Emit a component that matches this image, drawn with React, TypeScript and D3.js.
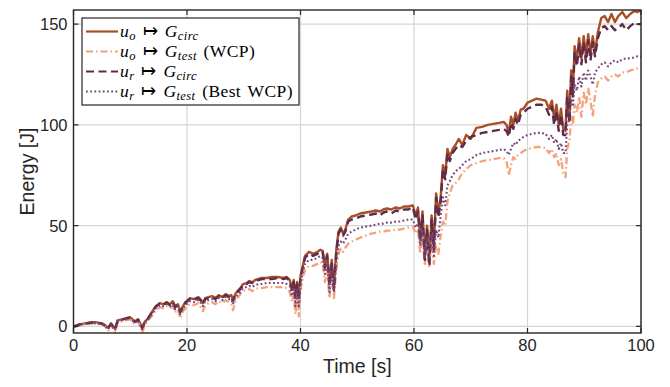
import React from 'react';
import * as d3 from 'd3';

// time samples [s] shared by all four runs
const time = [
  0, 1, 2, 3, 4, 5, 5.6, 6.1, 6.6, 7.3,
  7.8, 8.5, 9.2, 10.0, 10.4, 10.8, 11.4, 12.1, 12.6, 13.0,
  13.8, 14.5, 15.2, 15.8, 16.4, 17.0, 17.5, 17.9, 18.4, 18.8,
  19.3, 19.7, 20.5, 21.2, 22.0, 22.5, 22.8, 23.2, 23.8, 24.4,
  25.0, 25.6, 26.2, 26.8, 27.4, 27.8, 28.1, 28.5, 28.9, 29.4,
  29.9, 30.5, 31.0, 31.5, 32.0, 32.6, 33.2, 34.0, 35.0, 36.0,
  37.0, 37.6, 38.1, 38.5, 38.8, 39.1, 39.4, 39.7, 40.0, 40.4,
  40.8, 41.5, 42.2, 43.0, 43.5, 43.9, 44.3, 44.7, 45.1, 45.5,
  45.9, 46.3, 46.7, 47.1, 47.5, 47.9, 48.4, 49.0, 49.7, 50.5,
  51.5, 52.5, 53.3, 54.0, 54.6, 55.2, 56.0, 56.8, 57.5, 58.2,
  59.0, 59.8, 60.3, 60.7, 61.1, 61.5, 61.9, 62.3, 62.7, 63.1,
  63.5, 63.9, 64.3, 64.7, 65.1, 65.5, 65.9, 66.3, 66.8, 67.3,
  67.9, 68.5, 69.2, 70.0, 71.0, 72.0, 73.0, 74.0, 75.0, 75.8,
  76.3, 76.7, 77.1, 77.5, 77.9, 78.3, 78.8, 79.3, 80.0, 80.8,
  81.6, 82.4, 83.2, 83.8, 84.3, 84.7, 85.1, 85.5, 85.9, 86.3,
  86.7, 87.0, 87.4, 87.7, 88.0, 88.3, 88.7, 89.1, 89.5, 89.9,
  90.3, 90.7, 91.1, 91.5, 91.9, 92.4, 93.0, 93.6, 94.2, 94.8,
  95.4, 96.0, 96.7, 97.4, 98.1, 98.8, 99.4, 100,
];

// u_o -> G_circ
const uoCirc = [
  0, 1, 1.5, 2, 2, 1.5, 0.5, -0.8, 1.5, -1.2,
  3, 3.5, 4, 4.5, 3.5, 2.5, 3.5, -0.5, 2.5, 3.5,
  7, 10, 11.5, 11, 12, 11, 12.5, 10, 11, 7.5,
  10, 12, 14, 13.5, 14.5, 13, 11.5, 14, 14.5, 15,
  14, 15.5, 14.5, 16, 15, 15.5, 13, 16, 17.5, 19,
  21, 21.5, 22.5, 21.8, 23, 23.5, 24, 24, 24.5, 24.5,
  24, 24.5, 23, 19, 23, 15, 22, 14, 25, 30,
  35, 37, 36, 37, 38, 37.5, 30, 36, 22, 33,
  20, 38, 47, 49, 46, 48, 53, 54.5, 55, 56,
  56.5, 57, 57.5, 57, 58, 58.5, 58, 59, 58.5, 59.5,
  59.5, 60, 55, 59, 44, 57, 35, 50, 32, 55,
  40, 66, 56, 64, 80, 75, 88, 84, 88, 90,
  93, 90, 95, 93, 98.5, 99, 100, 100.5, 101, 101.5,
  100, 96, 104, 100, 106, 102, 107.5, 108, 111, 112,
  113, 112.5, 112, 108, 112, 103, 110, 100, 108, 98,
  97, 117, 104, 127, 117, 139, 132, 143, 133, 144,
  134, 145, 135, 144, 136, 146, 153, 154, 151, 155,
  151, 154, 156, 153, 155, 156.5, 156, 157,
];

// u_o -> G_test (WCP)
const uoTest = [
  -0.5, 0.5, 1, 1.5, 1.5, 1, 0, -2.5, 0.8, -3,
  2, 2.5, 3, 3.5, 2, 1, 2.5, -3.3, 1, 2.5,
  5, 8, 9.5, 9, 10, 9, 10, 7, 8.5, 4,
  7.5, 9, 11, 10.5, 11.5, 9, 7.5, 10.5, 11.5, 12,
  11, 12.5, 11.5, 13, 12, 11, 8, 12, 14, 16,
  17.5, 18, 18.5, 17.5, 18.5, 19, 19, 19.5, 19.5, 19.5,
  19.5, 19, 17, 12, 16, 6, 14, 5, 18, 24,
  28, 30, 30, 31, 32, 31, 22, 28, 14, 25,
  14, 28, 36, 38.5, 37, 39, 41, 42, 43, 44,
  45, 46, 46.5, 47, 47, 47.5, 47.5, 48, 48, 48.5,
  49, 49.5, 46, 48, 36, 45, 30, 40, 29, 42,
  31, 40, 36, 45, 52, 50, 62, 66, 70, 71,
  73, 76, 78, 80, 81, 82, 82.5, 83, 83.5, 83.5,
  82, 75, 80, 84, 83, 85, 86, 87, 88, 88.5,
  89, 89, 88.5, 86, 88, 84, 86, 80, 83, 76,
  74, 88, 92, 104, 100, 110, 106, 114, 104, 116,
  110, 118, 112, 104, 115, 121, 123, 124, 122, 124,
  125, 124, 126, 126, 127, 127.5, 128, 128,
];

// u_r -> G_circ
const urCirc = [
  -0.3, 0.8, 1.3, 1.8, 1.8, 1.3, 0.3, -1, 1.2, -1.5,
  2.8, 3.3, 3.8, 4.3, 3.2, 2.2, 3.2, -0.8, 2.2, 3.3,
  6.8, 9.8, 11.2, 10.5, 11.8, 10.5, 12, 9.5, 10.5, 7,
  9.5, 11.5, 13.5, 13, 14, 12.5, 11, 13.5, 14, 14.5,
  13.5, 15, 14, 15.5, 14.5, 15, 12.5, 15.5, 17, 18.5,
  20.5, 21, 22, 21.5, 22.5, 23, 23.5, 23.5, 23.5, 24,
  23.5, 24, 22.5, 18, 22, 14, 21, 13, 24, 29,
  34, 36, 35, 36, 37, 37, 29, 35, 20, 31,
  18, 36, 46, 48, 45, 47, 52, 53, 53.5, 54.5,
  55, 55.5, 56, 55, 56.5, 57, 56, 57.5, 57, 58,
  58, 59, 53, 57, 42, 55, 33, 48, 30, 53,
  38, 64, 54, 62, 78, 73, 86, 82, 86, 88,
  90, 89, 92, 94, 95, 96, 96.5, 97, 97.5, 98,
  97, 94, 101, 98, 103, 100, 105, 106, 108, 109,
  110, 110, 109, 105, 109, 100, 107, 97, 105, 95,
  95, 114, 101, 124, 114, 136, 129, 140, 130, 141,
  131, 142, 132, 141, 134, 143, 148, 149, 147, 149,
  147, 148, 150, 147, 149, 150.5, 150, 150,
];

// u_r -> G_test (Best WCP)
const urTest = [
  -0.3, 0.7, 1.2, 1.6, 1.6, 1.2, 0.2, -1.5, 1, -2,
  2.5, 3, 3.5, 4, 2.8, 1.8, 3, -1.5, 1.8, 3,
  6, 9, 10.5, 10, 11, 10, 11, 8.5, 10, 6,
  9, 10.5, 12.5, 12, 13, 11.5, 10, 12.5, 13, 13.5,
  12.5, 14, 13, 14.5, 13.5, 13.5, 11, 14, 15.5, 17,
  19, 19.5, 20, 19.5, 20.5, 21, 21, 21.5, 21.5, 21.5,
  21.5, 21, 20, 15, 19.5, 10, 18, 9, 21, 27,
  31, 33, 33, 34, 35, 34, 26, 32, 17, 28,
  17, 32, 40, 42, 41, 43, 46, 47, 48, 49,
  49.5, 50, 50.5, 51, 51, 51.5, 51.5, 52, 52, 52.5,
  53, 53, 49, 51, 40, 48, 34, 44, 33, 46,
  35, 48, 44, 55, 64, 60, 70, 72, 75, 77,
  78, 80, 82, 83, 85, 86, 86.5, 87, 87.5, 88,
  87, 85, 88, 91, 90, 92, 93, 94, 95, 95.5,
  96, 96, 95.5, 93, 95, 91, 93, 88, 91, 86,
  86, 100, 103, 113, 110, 120, 117, 124, 119, 126,
  122, 127, 124, 120, 126, 128, 130, 131, 129, 131,
  132, 131, 132.5, 133, 133, 133.5, 134, 134,
];

const xTicks = [0, 20, 40, 60, 80, 100];
const yTicks = [0, 50, 100, 150];

const series = [
  { values: uoCirc, color: '#a84f27', dash: 'none', width: 2.4, base: 'o', sub: 'circ', extra: '' },
  { values: uoTest, color: '#f5a179', dash: '7,3,1.5,3', width: 2.3, base: 'o', sub: 'test', extra: ' (WCP)' },
  { values: urCirc, color: '#5e2b4b', dash: '8,4.5', width: 2.4, base: 'r', sub: 'circ', extra: '' },
  { values: urTest, color: '#74467a', dash: '1.8,2.4', width: 2.1, base: 'r', sub: 'test', extra: ' (Best WCP)' },
];

const W = 670;
const H = 387;
const left = 73.5;
const right = 641;
const top = 10;
const bottom = 333;

export default function App() {
  const x = d3.scaleLinear().domain([0, 100]).range([left, right]);
  const y = d3.scaleLinear().domain([-3.3, 157]).range([bottom, top]);

  const line = (vals: number[]) =>
    d3.line<number>()
      .x((_, i) => x(time[i]))
      .y(d => y(d))(vals) || '';

  const tickFont = { fontFamily: '"Liberation Sans", Arial, sans-serif', fontSize: 16.5, fill: '#262626' };
  const legFont = { fontFamily: '"Liberation Serif", "Times New Roman", serif', fontSize: 17.5, fill: '#000', letterSpacing: 0.4, wordSpacing: 2 };

  return (
    <svg width={W} height={H} style={{ position: 'absolute', left: 0, top: 0, background: '#fff' }}>
      <defs>
        <clipPath id="plot">
          <rect x={left} y={top} width={right - left} height={bottom - top} />
        </clipPath>
      </defs>

      {/* grid */}
      <g stroke="#d4d4d4" strokeWidth={1.2}>
        {xTicks.map(t => (
          <line key={'gx' + t} x1={x(t)} x2={x(t)} y1={top} y2={bottom} />
        ))}
        {yTicks.map(t => (
          <line key={'gy' + t} x1={left} x2={right} y1={y(t)} y2={y(t)} />
        ))}
      </g>

      {/* data */}
      <g clipPath="url(#plot)" fill="none">
        {series.map((s, i) => (
          <path
            key={i}
            d={line(s.values)}
            stroke={s.color}
            strokeWidth={s.width}
            strokeDasharray={s.dash}
            strokeLinejoin="round"
          />
        ))}
      </g>

      {/* box + ticks */}
      <rect x={left} y={top} width={right - left} height={bottom - top} fill="none" stroke="#262626" strokeWidth={1.4} />
      <g stroke="#262626" strokeWidth={1.2}>
        {xTicks.map(t => (
          <g key={'tx' + t}>
            <line x1={x(t)} x2={x(t)} y1={bottom} y2={bottom - 5} />
            <line x1={x(t)} x2={x(t)} y1={top} y2={top + 5} />
          </g>
        ))}
        {yTicks.map(t => (
          <g key={'ty' + t}>
            <line x1={left} x2={left + 5} y1={y(t)} y2={y(t)} />
            <line x1={right} x2={right - 5} y1={y(t)} y2={y(t)} />
          </g>
        ))}
      </g>

      {xTicks.map(t => (
        <text key={'lx' + t} x={x(t)} y={350.5} textAnchor="middle" {...tickFont}>{t}</text>
      ))}
      {yTicks.map(t => (
        <text key={'ly' + t} x={left - 6} y={y(t) + 6} textAnchor="end" {...tickFont}>{t}</text>
      ))}

      <text x={(left + right) / 2} y={373} textAnchor="middle" {...tickFont} fontSize={19.5}>Time [s]</text>
      <text transform={`translate(34,${(top + bottom) / 2}) rotate(-90)`} textAnchor="middle" {...tickFont} fontSize={19.5}>Energy [J]</text>

      {/* legend */}
      <rect x={82} y={18} width={217} height={87} fill="#fff" stroke="#262626" strokeWidth={1.2} />
      {series.map((s, i) => {
        const ly = 31.5 + i * 20;
        return (
          <g key={'leg' + i}>
            <line x1={86} x2={118} y1={ly} y2={ly} stroke={s.color} strokeWidth={2.2} strokeDasharray={s.dash} />
            <text x={120} y={ly + 5} {...legFont}>
              <tspan fontStyle="italic">u</tspan>
              <tspan fontStyle="italic" fontSize={12.5} dy={3.5}>{s.base}</tspan>
              <tspan dy={-3.5}>{' \u21A6 '}</tspan>
              <tspan fontStyle="italic">G</tspan>
              <tspan fontStyle="italic" fontSize={12.5} dy={3.5}>{s.sub}</tspan>
              {s.extra ? <tspan dy={-3.5}>{s.extra}</tspan> : null}
            </text>
          </g>
        );
      })}
    </svg>
  );
}
